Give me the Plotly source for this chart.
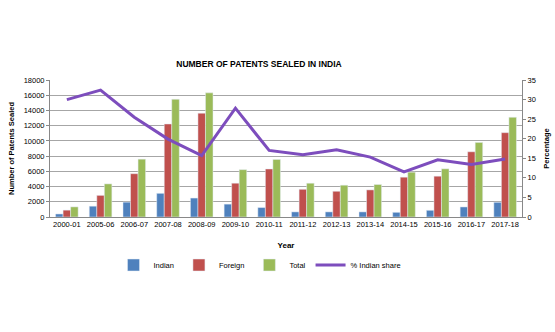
import plotly.graph_objects as go

years = ["2000-01", "2005-06", "2006-07", "2007-08", "2008-09", "2009-10", "2010-11",
         "2011-12", "2012-13", "2013-14", "2014-15", "2015-16", "2016-17", "2017-18"]
indian = [400, 1420, 1950, 3110, 2490, 1690, 1240, 670, 670, 670, 615, 880, 1320, 1930]
foreign = [900, 2840, 5690, 12220, 13640, 4440, 6310, 3640, 3380, 3560, 5230, 5360, 8570, 11080]
total = [1330, 4350, 7600, 15470, 16310, 6220, 7560, 4440, 4180, 4270, 5890, 6330, 9800, 13100]
indian_share = [30.0, 32.4, 25.5, 19.9, 15.7, 27.8, 17.0, 15.9, 17.2, 15.3, 11.5, 14.6, 13.4, 14.8]

FONT = "Liberation Sans"

fig = go.Figure()
fig.add_bar(x=years, y=indian, name="Indian", marker_color="#4F81BD")
fig.add_bar(x=years, y=foreign, name="Foreign", marker_color="#C0504D")
fig.add_bar(x=years, y=total, name="Total", marker_color="#9BBB59")
fig.add_scatter(x=years, y=indian_share, name="% Indian share", yaxis="y2",
                mode="lines", line=dict(color="#7D4DBD", width=3))

fig.update_layout(
    width=555, height=332,
    margin=dict(l=50, r=33, t=80, b=115),
    paper_bgcolor="white", plot_bgcolor="white",
    font=dict(family=FONT, size=8, color="black"),
    barmode="group", bargap=0.33, bargroupgap=0,
    showlegend=True,
    title=dict(text="<b>NUMBER OF PATENTS SEALED IN INDIA</b>",
               xref="container", x=259 / 555, xanchor="center",
               yref="container", y=(332 - 64) / 332, yanchor="middle",
               font=dict(family=FONT, size=8.5, color="black")),
    xaxis=dict(type="category", automargin=False, showline=True, linecolor="#888888", ticks="",
               tickfont=dict(size=7.5, color="black"), tickangle=0,
               title=dict(text="<b>Year</b>", font=dict(size=8, color="black"), standoff=16)),
    yaxis=dict(range=[0, 18000], dtick=2000, tickformat="d", automargin=False, showgrid=True,
               gridcolor="#A6A6A6", gridwidth=1,
               showline=True, linecolor="#888888", ticks="outside", ticklen=3, tickcolor="#888888",
               tickfont=dict(size=7.5, color="black"), zeroline=False,
               title=dict(text="<b>Number of Patents Sealed</b>", font=dict(size=7.5, color="black"),
                          standoff=8)),
    yaxis2=dict(range=[0, 35], dtick=5, overlaying="y", side="right", showgrid=False,
                automargin=False,
                showline=True, linecolor="#888888", ticks="outside", ticklen=3, tickcolor="#888888",
                tickfont=dict(size=7.5, color="black"), zeroline=False,
                title=dict(text="<b>Percentage</b>", font=dict(size=7.5, color="black"), standoff=8)),
    legend=dict(orientation="h", xref="container", x=260 / 555, xanchor="center",
                yref="container", y=(332 - 265) / 332, yanchor="middle",
                font=dict(size=7.5, color="black"), itemwidth=30, traceorder="normal"),
)

fig.write_html("out.html")
